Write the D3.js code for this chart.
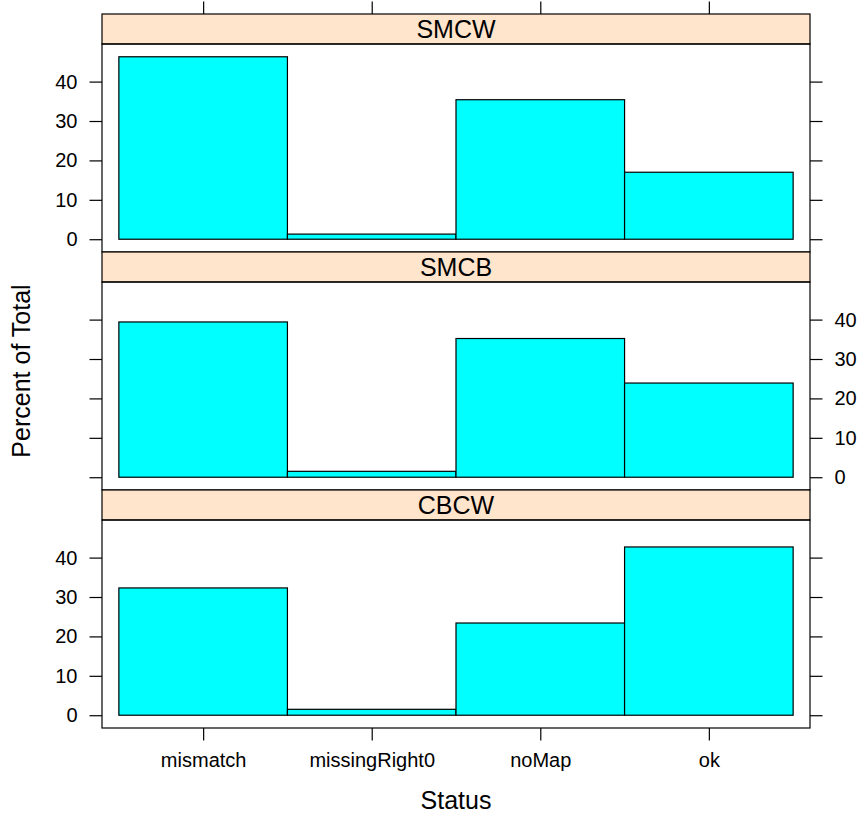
<!DOCTYPE html>
<html>
<head>
<meta charset="utf-8">
<script src="https://cdn.jsdelivr.net/npm/d3@7"></script>
<style>
  body { margin: 0; background: #fff; }
  text { font-family: "Liberation Sans", Arial, sans-serif; fill: #000; }
</style>
</head>
<body>
<div id="my_dataviz"></div>
<script>
// categories and panel values (percent of total)
const statuses = ["mismatch", "missingRight0", "noMap", "ok"];
const panelNames = ["SMCW", "SMCB", "CBCW"];
const smcwValues = [46.3, 1.3, 35.4, 17.0];
const smcbValues = [39.4, 1.5, 35.2, 23.9];
const cbcwValues = [32.3, 1.5, 23.4, 42.7];
const yTicks = [0, 10, 20, 30, 40];

const panelValues = [smcwValues, smcbValues, cbcwValues];

const W = 857, H = 814;
const margin = { left: 102, right: 810, top: 14 };
const stripH = 30, plotH = 208, panelH = stripH + plotH;
const tickLen = 12.5;

const svg = d3.select("#my_dataviz")
    .append("svg")
    .attr("width", W)
    .attr("height", H);

// shared x scale, factor levels at 1..4
const x = d3.scaleLinear()
    .domain([0.4, statuses.length + 0.6])
    .range([margin.left, margin.right]);

// shared y scale, padded like lattice
const maxVal = d3.max(panelValues.flat());
const pad = maxVal * 0.07;

panelNames.forEach((name, i) => {
    const y0 = margin.top + i * panelH;
    const plotTop = y0 + stripH;
    const plotBottom = y0 + panelH;

    const y = d3.scaleLinear()
        .domain([-pad, maxVal + pad])
        .range([plotBottom, plotTop]);

    const g = svg.append("g");

    // strip
    g.append("rect")
        .attr("x", margin.left).attr("y", y0)
        .attr("width", margin.right - margin.left).attr("height", stripH)
        .attr("fill", "#ffe5cc")
        .attr("stroke", "#000").attr("stroke-width", 1.2);

    g.append("text")
        .attr("x", (margin.left + margin.right) / 2)
        .attr("y", y0 + stripH / 2)
        .attr("dy", "0.36em")
        .attr("text-anchor", "middle")
        .style("font-size", "25px")
        .text(name);

    // bars
    g.selectAll("rect.bar")
        .data(panelValues[i])
        .join("rect")
        .attr("class", "bar")
        .attr("x", (d, j) => x(j + 0.5))
        .attr("width", (d, j) => x(j + 1.5) - x(j + 0.5))
        .attr("y", d => y(d))
        .attr("height", d => y(0) - y(d))
        .attr("fill", "#00ffff")
        .attr("stroke", "#000")
        .attr("stroke-width", 1.2);

    // panel border
    g.append("rect")
        .attr("x", margin.left).attr("y", plotTop)
        .attr("width", margin.right - margin.left).attr("height", plotH)
        .attr("fill", "none")
        .attr("stroke", "#000").attr("stroke-width", 1.2);

    // y axes, labels alternate left / right
    const labelLeft = i % 2 === 0;
    const leftAxis = d3.axisLeft(y).tickValues(yTicks)
        .tickSize(tickLen).tickPadding(12)
        .tickFormat(labelLeft ? d3.format("d") : "");
    const rightAxis = d3.axisRight(y).tickValues(yTicks)
        .tickSize(tickLen).tickPadding(12)
        .tickFormat(labelLeft ? "" : d3.format("d"));

    g.append("g")
        .attr("class", "axis")
        .attr("transform", `translate(${margin.left},0)`)
        .call(leftAxis);
    g.append("g")
        .attr("class", "axis")
        .attr("transform", `translate(${margin.right},0)`)
        .call(rightAxis);
});

// top and bottom x axes
const xTop = d3.axisTop(x).tickValues([1, 2, 3, 4])
    .tickSize(tickLen).tickFormat("");
const xBottom = d3.axisBottom(x).tickValues([1, 2, 3, 4])
    .tickSize(tickLen).tickPadding(12)
    .tickFormat(d => statuses[d - 1]);

svg.append("g")
    .attr("class", "axis")
    .attr("transform", `translate(0,${margin.top})`)
    .call(xTop);
svg.append("g")
    .attr("class", "axis")
    .attr("transform", `translate(0,${margin.top + 3 * panelH})`)
    .call(xBottom);

// axis styling
svg.selectAll(".axis .domain").remove();
svg.selectAll(".axis line").attr("stroke", "#000").attr("stroke-width", 1.2);
svg.selectAll(".axis text").style("font-size", "20px").attr("fill", "#000");

// axis titles
svg.append("text")
    .attr("x", (margin.left + margin.right) / 2)
    .attr("y", 809)
    .attr("text-anchor", "middle")
    .style("font-size", "25px")
    .text("Status");

svg.append("text")
    .attr("transform", `translate(30,${margin.top + 1.5 * panelH}) rotate(-90)`)
    .attr("text-anchor", "middle")
    .style("font-size", "25px")
    .text("Percent of Total");
</script>
</body>
</html>
